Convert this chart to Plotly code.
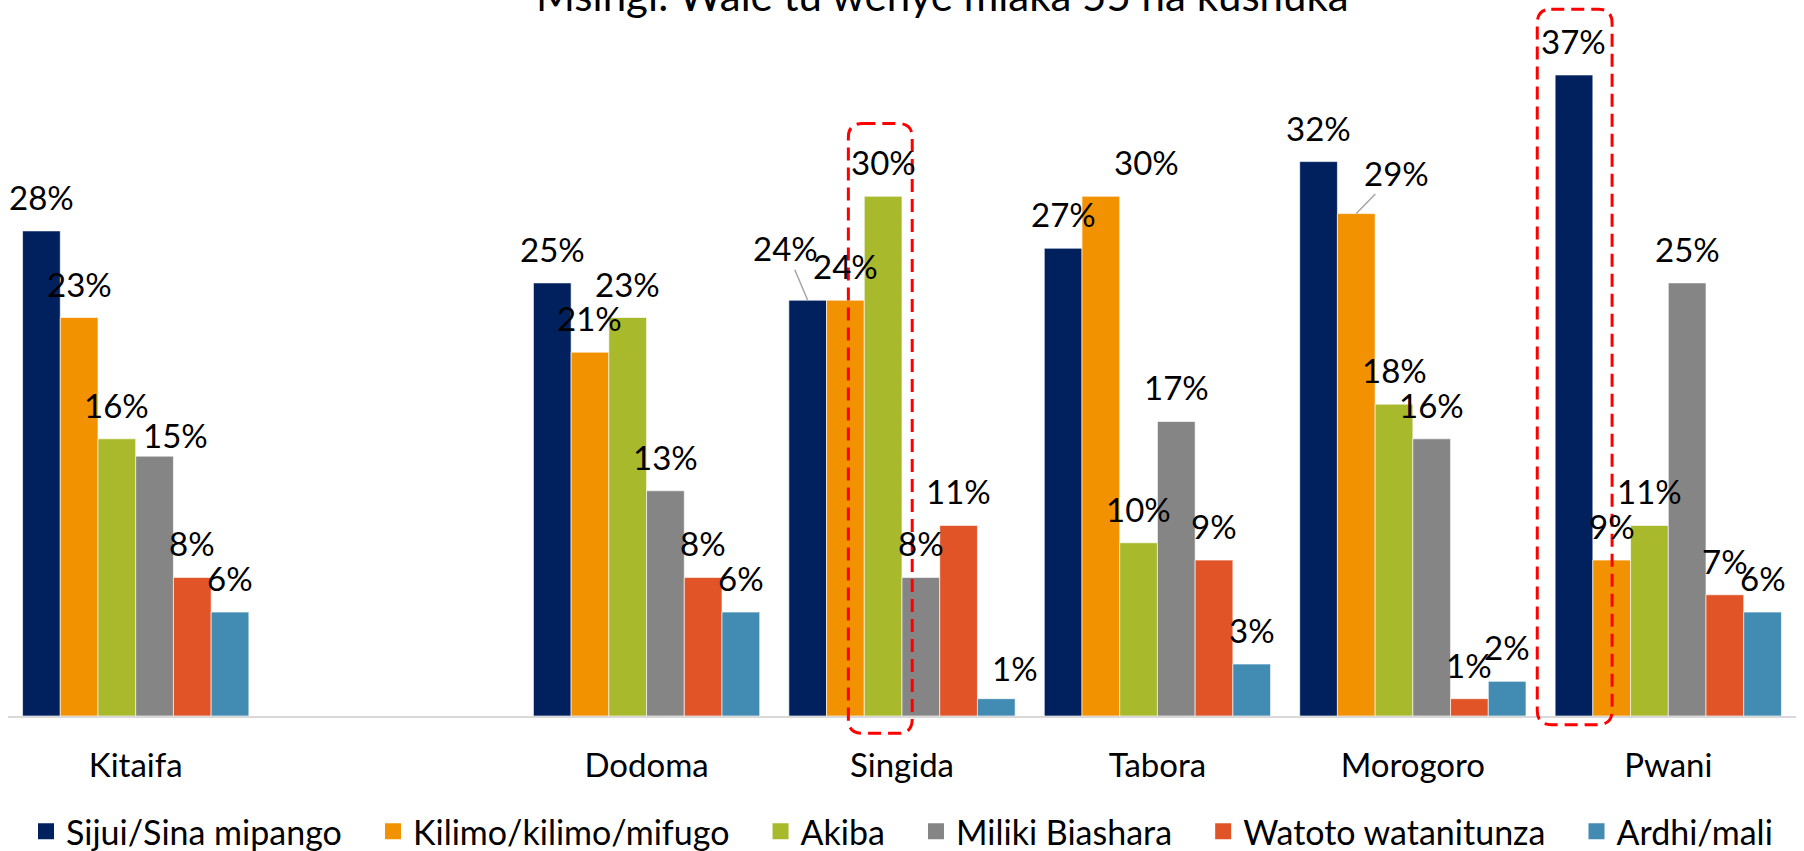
import plotly.graph_objects as go

categories = ["Kitaifa", " ", "Dodoma", "Singida", "Tabora", "Morogoro", "Pwani"]
series_names = ["Sijui/Sina mipango", "Kilimo/kilimo/mifugo", "Akiba",
                "Miliki Biashara", "Watoto watanitunza", "Ardhi/mali"]
sijui = [28, None, 25, 24, 27, 32, 37]
kilimo = [23, None, 21, 24, 30, 29, 9]
akiba = [16, None, 23, 30, 10, 18, 11]
miliki = [15, None, 13, 8, 17, 16, 25]
watoto = [8, None, 8, 11, 9, 1, 7]
ardhi = [6, None, 6, 1, 3, 2, 6]
title_text = "Msingi: Wale tu wenye miaka 55 na kushuka"

series_values = [sijui, kilimo, akiba, miliki, watoto, ardhi]
colors = ["#01205E", "#F39200", "#A8B92B", "#858585", "#E05428", "#428BB3"]

FONT = "Lato, Carlito, Calibri, sans-serif"
W, H = 1804, 851
ML, MR, MT, MB = 8, 8, 23, 135
PW, PH = W - ML - MR, H - MT - MB
NCAT = len(categories)
NSER = len(series_names)
YMAX = 40
BARGAP = 0.114
BAR_PX = PW / NCAT * (1 - BARGAP) / NSER

# manual label nudges (px): (category, series index) -> (dx, dy_up, leader_line)
label_nudges = {
    ("Kitaifa", 3): (21, -13, False),
    ("Singida", 0): (-22, 16, True),
    ("Singida", 5): (19, -3, False),
    ("Tabora", 1): (46, 0, False),
    ("Morogoro", 1): (40, 5, True),
}

fig = go.Figure()
for name, vals, col in zip(series_names, series_values, colors):
    fig.add_trace(go.Bar(
        x=categories, y=vals, name=name, marker_color=col,
        marker_line=dict(color="rgba(255,255,255,0.8)", width=0.8),
        showlegend=False, hoverinfo="x+y+name",
    ))

# legend proxies (extra trailing spaces widen the gap between entries)
for k, (name, col) in enumerate(zip(series_names, colors)):
    pad = "\u00a0" * 3 if k < NSER - 1 else ""
    fig.add_trace(go.Scatter(
        x=[None], y=[None], mode="markers", name=name + pad,
        marker=dict(symbol="square", size=16, color=col),
        showlegend=True,
    ))

LABEL_BASE = 12
annotations = []
for si, vals in enumerate(series_values):
    for cat, v in zip(categories, vals):
        if v is None:
            continue
        off = (si - (NSER - 1) / 2) * BAR_PX
        dx, dy, leader = label_nudges.get((cat, si), (0, 0, False))
        txt = f"{v}%"
        fnt = dict(family=FONT, size=33, color="#000000")
        if leader:
            annotations.append(dict(
                x=cat, y=v, xref="x", yref="y", xshift=off, text=txt,
                showarrow=True, arrowhead=0, arrowwidth=1.5, arrowcolor="#A6A6A6",
                ax=dx, ay=-(LABEL_BASE + dy + 24), standoff=0, font=fnt))
        else:
            annotations.append(dict(
                x=cat, y=v, xref="x", yref="y", xshift=off + dx,
                yshift=LABEL_BASE + dy, yanchor="bottom", xanchor="center",
                text=txt, showarrow=False, font=fnt))

annotations.append(dict(text=title_text, xref="paper", yref="paper",
                        x=(942 - ML) / PW, y=1.041, xanchor="center", yanchor="middle",
                        showarrow=False,
                        font=dict(family=FONT, size=42, color="#000000")))

# highlight boxes (category-index ranges and value ranges)
highlights = [
    dict(x0=2.79, x1=3.04, y0=-1.0, y1=34.2),
    dict(x0=5.487, x1=5.78, y0=-0.5, y1=40.8),
]


def to_paper(xc, yv):
    return (xc + 0.5) / NCAT, yv / YMAX


shapes = []
r = 14
rx, ry = r / PW, r / PH
for hb in highlights:
    x0, y0 = to_paper(hb["x0"], hb["y0"])
    x1, y1 = to_paper(hb["x1"], hb["y1"])
    path = (f"M {x0+rx},{y1} L {x1-rx},{y1} Q {x1},{y1} {x1},{y1-ry} "
            f"L {x1},{y0+ry} Q {x1},{y0} {x1-rx},{y0} L {x0+rx},{y0} "
            f"Q {x0},{y0} {x0},{y0+ry} L {x0},{y1-ry} Q {x0},{y1} {x0+rx},{y1} Z")
    shapes.append(dict(type="path", path=path, xref="paper", yref="paper",
                       line=dict(color="#FF0000", width=3, dash="13px,7px"),
                       fillcolor="rgba(0,0,0,0)", layer="above"))

fig.update_layout(
    width=W, height=H,
    margin=dict(l=ML, r=MR, t=MT, b=MB, autoexpand=False),
    paper_bgcolor="white", plot_bgcolor="white",
    barmode="group", bargap=BARGAP, bargroupgap=0,
    font=dict(family=FONT, color="#000000"),
    xaxis=dict(type="category", categoryorder="array", categoryarray=categories,
               range=[-0.5, NCAT - 0.5],
               showline=True, linecolor="#D9D9D9", linewidth=2,
               ticks="", showgrid=False, zeroline=False, ticklabelstandoff=19,
               tickfont=dict(family=FONT, size=33, color="#000000")),
    yaxis=dict(range=[0, YMAX], visible=False, showgrid=False, zeroline=False),
    legend=dict(orientation="h", x=0.5, xanchor="center", y=-0.167, yanchor="middle",
                font=dict(family=FONT, size=34, color="#000000"),
                bgcolor="rgba(0,0,0,0)", itemclick=False),
    shapes=shapes,
    annotations=annotations,
)

fig.write_html("out.html",
               config={"displayModeBar": False},
               post_script="document.body.style.margin='0';document.body.style.overflow='hidden';")
